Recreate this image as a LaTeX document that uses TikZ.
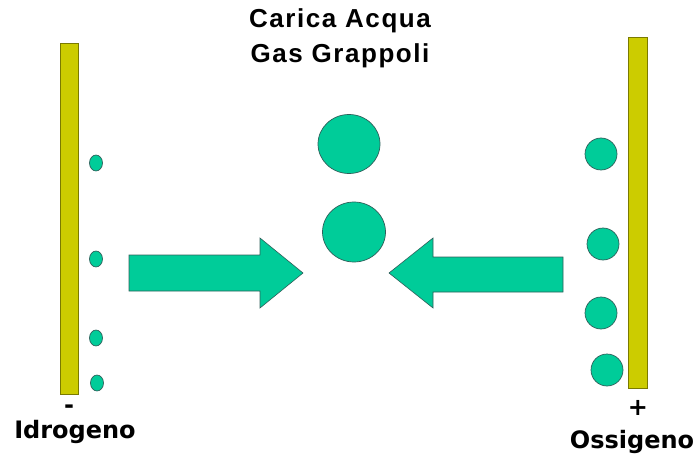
\documentclass[tikz,border=0pt]{standalone}
\usepackage{fontspec}
\setmainfont{Liberation Sans}
\newfontfamily\titlefont[LetterSpace=6]{Liberation Sans}
\newfontfamily\labelfont{DejaVu Sans}
\usepackage{tikz}
\usetikzlibrary{shapes.geometric, positioning, calc}
\definecolor{plategold}{HTML}{CCCC00}
\definecolor{plateedge}{HTML}{7A7A00}
\definecolor{gasgreen}{HTML}{00CC99}
\definecolor{gasedge}{HTML}{2F5F5A}

\begin{document}
\begin{tikzpicture}[x=1pt, y=-1pt,
                plate/.style={draw=plateedge, fill=plategold, line width=0.8pt},
                gas/.style={ellipse, draw=gasedge, fill=gasgreen, line width=0.7pt, inner sep=0pt},
                flow/.style={draw=gasedge, fill=gasgreen, line width=0.6pt},
                title/.style={font=\titlefont\bfseries\fontsize{26}{28}\selectfont, anchor=base},
                pole/.style={font=\labelfont\bfseries\fontsize{24}{28}\selectfont, anchor=base}]
                \useasboundingbox (0,0) rectangle (700,454);
                % electrodes
                \draw[plate] (60,43) rectangle (78,394);
                \draw[plate] (628,37) rectangle (647,388);
                % hydrogen side
                \node[gas, minimum width=13pt, minimum height=16pt] (h1) at (96,163) {};
                \node[gas, minimum width=13pt, minimum height=16pt] (h2) at (96,259) {};
                \node[gas, minimum width=13pt, minimum height=16pt] (h3) at (96,338) {};
                \node[gas, minimum width=13pt, minimum height=16pt] (h4) at (97,383) {};
                % oxygen side
                \node[gas, minimum width=32pt, minimum height=32pt] (o1) at (601,154) {};
                \node[gas, minimum width=32pt, minimum height=32pt] (o2) at (603,244) {};
                \node[gas, minimum width=32pt, minimum height=32pt] (o3) at (601,313) {};
                \node[gas, minimum width=32pt, minimum height=32pt] (o4) at (607,370) {};
                % clusters
                \node[gas, minimum width=62pt, minimum height=59pt] (c1) at (349,144) {};
                \node[gas, minimum width=63pt, minimum height=60pt] (c2) at (354,232) {};
                % arrows
                \draw[flow] (129,255) -- (260,255) -- (260,238) -- (303,273) -- (260,308) -- (260,291) -- (129,291) -- cycle;
                \draw[flow] (563,257) -- (433,257) -- (433,238) -- (389,273) -- (433,308) -- (433,292) -- (563,292) -- cycle;
                % labels
                \node[title] (t1) at (340,28) {Carica Acqua};
                \node[title] (t2) at (340,63) {Gas Grappoli};
                \node[pole] (minus) at (69,413) {-};
                \node[pole] (idro) at (75,438) {Idrogeno};
                \node[pole] (plus) at (638,415) {+};
                \node[pole] (ossi) at (632,448) {Ossigeno};
            \end{tikzpicture}
\end{document}
